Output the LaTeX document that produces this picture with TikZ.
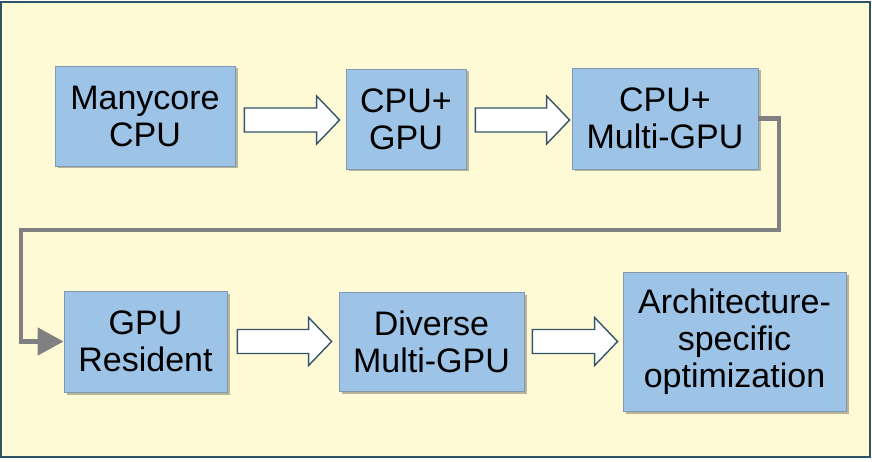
\documentclass[tikz,border=0pt]{standalone}
\usepackage{fontspec}
\setmainfont{Liberation Sans}
\usetikzlibrary{arrows.meta,shadows,calc}
\definecolor{bgyellow}{RGB}{255,250,214}
\definecolor{frameblue}{RGB}{46,82,102}
\definecolor{boxblue}{RGB}{157,195,230}
\definecolor{boxedge}{RGB}{128,152,176}
\definecolor{conngray}{RGB}{128,128,128}
\definecolor{arrowedge}{RGB}{52,84,106}
\tikzset{
  stagebox/.style={draw=boxedge, line width=0.8pt, fill=boxblue, align=center,
    inner sep=0pt, font=\fontsize{34}{37}\selectfont,
    drop shadow={shadow xshift=2.5pt, shadow yshift=-2.5pt, fill=black, opacity=0.28}},
  barrowstyle/.style={draw=arrowedge, fill=white, line width=1.4pt, line join=miter},
  conn/.style={draw=conngray, line width=4.8pt, line join=miter,
    -{Triangle[length=26pt,width=27pt]}}
}
\newcommand\blockarr[2]{%
  \path[barrowstyle] let \p1=(#1), \p2=(#2) in
   (\x1,\y2+12pt) -- (\x2-23pt,\y2+12pt) -- (\x2-23pt,\y2+24pt) -- (\x2,\y2)
   -- (\x2-23pt,\y2-24pt) -- (\x2-23pt,\y2-12pt) -- (\x1,\y2-12pt) -- cycle;}
\begin{document}
\begin{tikzpicture}[x=1pt,y=-1pt]
\useasboundingbox (0,0) rectangle (872,462);
\node[draw=frameblue, fill=bgyellow, line width=2pt, minimum width=869pt, minimum height=455pt, inner sep=0pt] (frame) at (435.5,229.5) {};

\node[stagebox, minimum width=180pt, minimum height=100pt] (c1) at (145,116) {Manycore\\CPU};
\node[stagebox, minimum width=120pt, minimum height=100pt] (c2) at (406,119) {CPU+\\GPU};
\node[stagebox, minimum width=186pt, minimum height=101pt] (c3) at (665,118.5) {CPU+\\Multi-GPU};
\node[stagebox, minimum width=163pt, minimum height=101pt] (c4) at (145.5,341.5) {GPU\\Resident};
\node[stagebox, minimum width=185pt, minimum height=99pt] (c5) at (431.5,341.5) {Diverse\\Multi-GPU};
\node[stagebox, minimum width=223pt, minimum height=139pt] (c6) at (734.5,341.5) {Architecture-\\specific\\optimization};

\coordinate (a1s) at ($(c1.east)+(9,0)$);
\coordinate (a1e) at ($(c2.west)+(-6,1)$);
\coordinate (a2s) at ($(c2.east)+(9,0)$);
\coordinate (a2e) at ($(c3.west)+(-2,1.5)$);
\coordinate (a3s) at ($(c4.east)+(10,0)$);
\coordinate (a3e) at ($(c5.west)+(-7,0)$);
\coordinate (a4s) at ($(c5.east)+(8,0)$);
\coordinate (a4e) at ($(c6.west)+(-5,0)$);
\blockarr{a1s}{a1e}
\blockarr{a2s}{a2e}
\blockarr{a3s}{a3e}
\blockarr{a4s}{a4e}

\coordinate (k1) at (779,230);
\coordinate (k2) at (21,230);
\draw[conn] (c3.east) -| (k1) -- (k2) |- (c4.west);
\end{tikzpicture}
\end{document}
